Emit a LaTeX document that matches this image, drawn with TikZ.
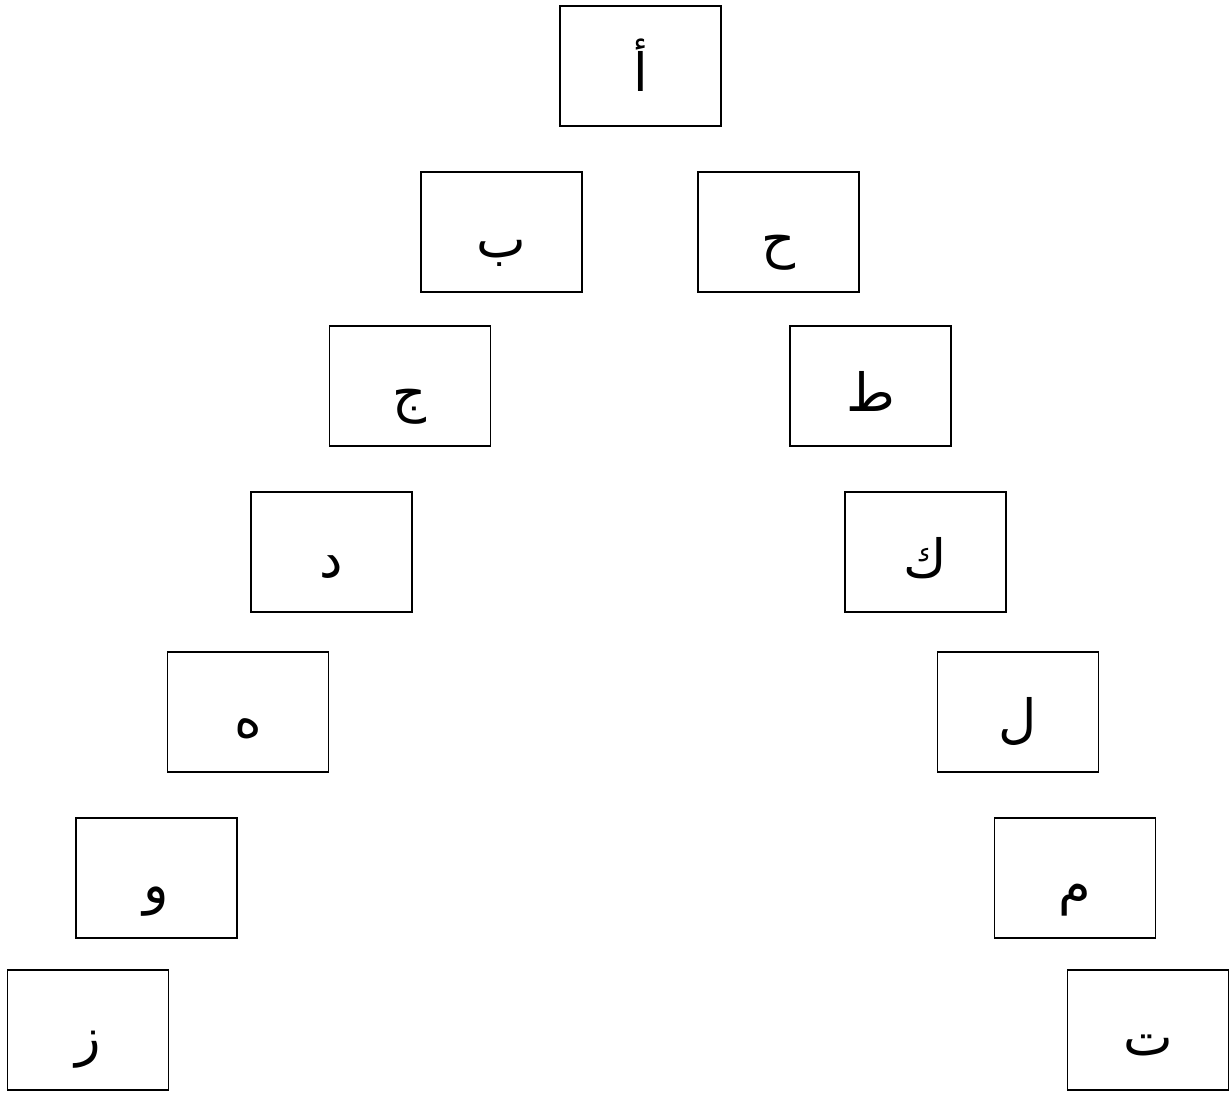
\documentclass[tikz,border=0pt]{standalone}
\usepackage{fontspec}
\usepackage{tikz}
\TeXXeTstate=1
\newfontfamily\arabicfont[Script=Arabic]{DejaVu Sans}
\usetikzlibrary{positioning}
\tikzset{
    letterbox/.style={draw, line width=1pt, minimum width=3.22cm, minimum height=2.4cm,
        text height=1.0cm, text depth=0cm, inner sep=0pt, font=\arabicfont\fontsize{30}{36}\selectfont}
}
\newcommand{\ar}[1]{\beginR #1\endR}

\begin{document}
\begin{tikzpicture}[x=0.02cm, y=-0.02cm]
  \useasboundingbox (0,0) rectangle (1229,1093);
  % top of the arch
  \node[letterbox] (alef) at (640.5,66) {\ar{أ}};
  % left branch
  \node[letterbox] (ba)   at (501.5,232) {\ar{ب}};
  \node[letterbox] (jim)  at (410,386)   {\ar{ج}};
  \node[letterbox] (dal)  at (331.5,552) {\ar{د}};
  \node[letterbox] (he)   at (248,712)   {\ar{ه}};
  \node[letterbox] (waw)  at (156.5,878) {\ar{و}};
  \node[letterbox] (zay)  at (88,1030)   {\ar{ز}};
  % right branch
  \node[letterbox] (hha)  at (778.5,232) {\ar{ح}};
  \node[letterbox] (tta)  at (870.5,386) {\ar{ط}};
  \node[letterbox] (kaf)  at (925.5,552) {\ar{ك}};
  \node[letterbox] (lam)  at (1018,712)  {\ar{ل}};
  \node[letterbox] (mim)  at (1075,878)  {\ar{م}};
  \node[letterbox] (teh)  at (1148,1030) {\ar{ت}};
\end{tikzpicture}
\end{document}
